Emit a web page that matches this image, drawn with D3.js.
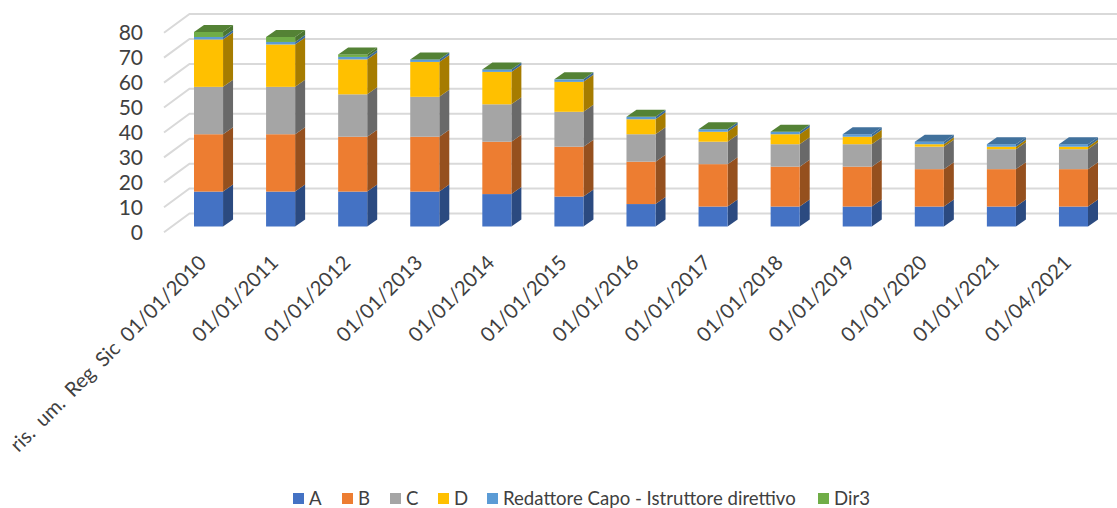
<!DOCTYPE html>
<html>
<head>
<meta charset="utf-8">
<style>
  html, body { margin: 0; padding: 0; background: #fff; }
  svg { display: block; }
  text { font-family: Lato, "Open Sans", sans-serif; fill: #404040; }
</style>
<script src="https://cdn.jsdelivr.net/npm/d3@7"></script>
</head>
<body>
<svg id="chart" width="1117" height="508"></svg>
<script>
// Staff by category at each reference date
const categories = ["ris. um. Reg Sic 01/01/2010", "01/01/2011", "01/01/2012", "01/01/2013", "01/01/2014",
  "01/01/2015", "01/01/2016", "01/01/2017", "01/01/2018", "01/01/2019", "01/01/2020", "01/01/2021", "01/04/2021"];
const seriesNames = ["A", "B", "C", "D", "Redattore Capo - Istruttore direttivo", "Dir3"];
const valuesA = [14, 14, 14, 14, 13, 12, 9, 8, 8, 8, 8, 8, 8];
const valuesB = [23, 23, 22, 22, 21, 20, 17, 17, 16, 16, 15, 15, 15];
const valuesC = [19, 19, 17, 16, 15, 14, 11, 9, 9, 9, 9, 8, 8];
const valuesD = [19, 17, 14, 14, 13, 12, 6, 4, 4, 3, 1, 1, 1];
const valuesRedattore = [1, 1, 1, 1, 1, 1, 1, 1, 1, 1, 1, 1, 1];
const valuesDir3 = [2, 2, 1, 0, 0, 0, 0, 0, 0, null, null, null, null];
const yTicks = [0, 10, 20, 30, 40, 50, 60, 70, 80];

const frontColors = ["#4472C4", "#ED7D31", "#A5A5A5", "#FFC000", "#5B9BD5", "#70AD47"];
const sideColors = ["#2B4A80", "#95501E", "#696969", "#A67C00", "#3B6A94", "#4A7530"];
const lidColors = ["#335A9C", "#B85F22", "#7F7F7F", "#BF9000", "#41719C", "#548235"];

const allSeries = [valuesA, valuesB, valuesC, valuesD, valuesRedattore, valuesDir3];
const table = categories.map((c, i) => {
  const row = { category: c };
  seriesNames.forEach((s, k) => { row[s] = allSeries[k][i]; });
  return row;
});

const stacked = d3.stack().keys(seriesNames).value((d, k) => d[k] || 0)(table);

const svg = d3.select("#chart");

// Front-plane scales for the columns
const x = d3.scaleBand().domain(categories).range([194, 1088]).paddingInner(0.597).paddingOuter(0);
const y = d3.scaleLinear().domain([0, 80]).range([226.5, 27]);

// Depth of a column, and of the chart's floor
const barDepth = { dx: 10, dy: -7 };
const wallOffsetY = -13;
const wallLeft = 189.5, wallFrontX = 164, wallFrontDrop = 18.7;

// Gridlines on the back wall and the short side wall
const grid = svg.append("g").attr("stroke", "#D9D9D9").attr("stroke-width", 2).attr("fill", "none");
grid.selectAll("path").data(yTicks).join("path")
  .attr("d", t => {
    const wy = y(t) + wallOffsetY;
    return `M${wallFrontX},${wy + wallFrontDrop}L${wallLeft},${wy}L1117,${wy}`;
  });

// Columns are painted left to right, each one bottom to top
const pts = p => p.map(q => q.join(",")).join(" ");
const bars = svg.append("g").selectAll("g").data(categories).join("g");
bars.each(function (cat, i) {
  const g = d3.select(this);
  const x0 = x(cat), x1 = x0 + x.bandwidth();
  const { dx, dy } = barDepth;
  stacked.forEach((layer, k) => {
    if (allSeries[k][i] === null) return;
    const yb = y(layer[i][0]), yt = y(layer[i][1]);
    g.append("polygon").attr("fill", sideColors[k])
      .attr("points", pts([[x1, yb], [x1 + dx, yb + dy], [x1 + dx, yt + dy], [x1, yt]]));
    g.append("rect").attr("fill", frontColors[k])
      .attr("x", x0).attr("y", yt).attr("width", x1 - x0).attr("height", yb - yt);
  });
  // The lid takes its shade from the last series present at this date
  const topIdx = d3.max(seriesNames.map((s, k) => allSeries[k][i] === null ? -1 : k));
  const yt = y(stacked[topIdx][i][1]);
  g.append("polygon").attr("fill", lidColors[topIdx])
    .attr("points", pts([[x0, yt], [x0 + dx, yt + dy], [x1 + dx, yt + dy], [x1, yt]]));
});

// Value axis
const yAxis = svg.append("g").attr("transform", "translate(143,6)")
  .call(d3.axisLeft(y).tickValues(yTicks).tickSize(0).tickPadding(0));
yAxis.select(".domain").remove();
yAxis.selectAll("text").attr("font-size", 21).style("fill", "#404040");

// Date axis with slanted labels
const xAxis = svg.append("g").attr("transform", "translate(-6,250)")
  .call(d3.axisBottom(x).tickSize(0).tickPadding(0));
xAxis.select(".domain").remove();
xAxis.selectAll("text")
  .attr("font-size", 20.2)
  .attr("word-spacing", "4.5px")
  .attr("text-anchor", "end")
  .attr("x", 0).attr("y", 0).attr("dy", "0.35em")
  .attr("transform", "translate(0,9) rotate(-45)")
  .style("fill", "#404040");

// Legend
const legendX = d3.scaleOrdinal().domain(seriesNames).range([293, 342, 390, 438, 487, 818]);
const legend = svg.append("g").selectAll("g").data(seriesNames).join("g")
  .attr("transform", d => `translate(${legendX(d)},493)`);
legend.append("rect").attr("width", 11).attr("height", 11)
  .attr("fill", (d, i) => frontColors[i]);
legend.append("text").attr("x", 16).attr("y", 5.5).attr("dy", "0.35em")
  .attr("font-size", 18.6).text(d => d);
</script>
</body>
</html>
